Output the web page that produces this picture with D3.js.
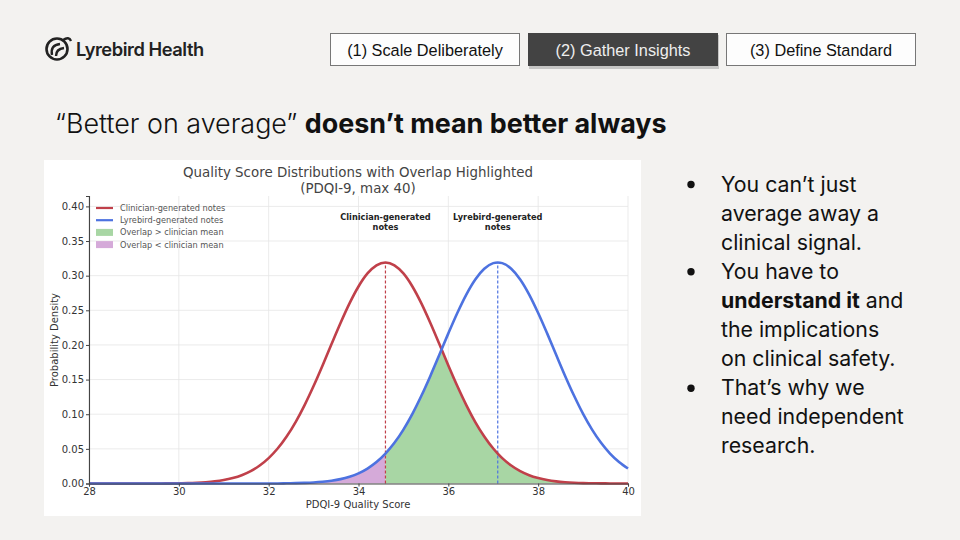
<!DOCTYPE html>
<html><head><meta charset="utf-8">
<script src="https://cdn.jsdelivr.net/npm/d3@7"></script>
<style>
html,body{margin:0;padding:0;background:#f3f2f0;}
svg{display:block;}
</style></head>
<body><svg id="c" width="960" height="540"></svg>
<script>
// ---- data ----
const scoreX = [28,28.2,28.4,28.6,28.8,29,29.2,29.4,29.6,29.8,30,30.2,30.4,30.6,30.8,31,31.2,31.4,31.6,31.8,32,32.2,32.4,32.6,32.8,33,33.2,33.4,33.6,33.8,34,34.2,34.4,34.6,34.8,35,35.2,35.4,35.6,35.8,36,36.2,36.4,36.6,36.8,37,37.1,37.2,37.4,37.6,37.8,38,38.2,38.4,38.6,38.8,39,39.2,39.4,39.6,39.8,40];
const clinicianDensity = [0,0,0,0,0,0,0,0,0.0001,0.0002,0.0004,0.0006,0.0011,0.0019,0.0031,0.0050,0.0079,0.0120,0.0179,0.0260,0.0367,0.0505,0.0678,0.0887,0.1132,0.1407,0.1704,0.2013,0.2317,0.2600,0.2844,0.3032,0.3150,0.3191,0.3150,0.3032,0.2844,0.2600,0.2317,0.2013,0.1704,0.1407,0.1132,0.0887,0.0678,0.0505,0.0432,0.0367,0.0260,0.0179,0.0120,0.0079,0.0050,0.0031,0.0019,0.0011,0.0006,0.0004,0.0002,0.0001,0,0];
const lyrebirdDensity = [0,0,0,0,0,0,0,0,0,0,0,0,0,0,0,0,0,0,0,0,0.0001,0.0001,0.0003,0.0005,0.0009,0.0015,0.0025,0.0040,0.0063,0.0098,0.0147,0.0216,0.0310,0.0432,0.0587,0.0778,0.1005,0.1266,0.1553,0.1858,0.2167,0.2462,0.2728,0.2946,0.3100,0.3181,0.3191,0.3181,0.3100,0.2946,0.2728,0.2462,0.2167,0.1858,0.1553,0.1266,0.1005,0.0778,0.0587,0.0432,0.0310,0.0216];
const clinicianMean = 34.6;
const lyrebirdMean = 37.1;
const peakDensity = 0.3191;
const xTicks = [28,30,32,34,36,38,40];
const yTicks = [0,0.05,0.10,0.15,0.20,0.25,0.30,0.35,0.40];
const legendLabels = ["Clinician-generated notes","Lyrebird-generated notes","Overlap > clinician mean","Overlap < clinician mean"];
const navLabels = ["(1) Scale Deliberately","(2) Gather Insights","(3) Define Standard"];
const bulletLines = [
  [["You can\u2019t just",false]],
  [["average away a",false]],
  [["clinical signal.",false]],
  [["You have to",false]],
  [["understand it",true],[" and",false]],
  [["the implications",false]],
  [["on clinical safety.",false]],
  [["That\u2019s why we",false]],
  [["need independent",false]],
  [["research.",false]]
];
const bulletStarts = [0,3,7];

// ---- drawing ----
const svg = d3.select("#c");
const RED = "#c0404a", BLUE = "#4d72e0", GREEN = "#a8d6a4", PURPLE = "#d5aad9";

// logo
const logo = svg.append("g").attr("transform","translate(57,49)");
logo.append("circle").attr("r",10.5).attr("fill","none").attr("stroke","#222").attr("stroke-width",2.6);
logo.append("path").attr("d","M-5,6 Q-7,-4 3,-5").attr("fill","none").attr("stroke","#222").attr("stroke-width",2.4);
logo.append("path").attr("d","M-1,7 Q-1,0 7,-1").attr("fill","none").attr("stroke","#222").attr("stroke-width",2.4);
logo.append("path").attr("d","M6,-9 Q12,-13 14,-8").attr("fill","none").attr("stroke","#222").attr("stroke-width",2.4);
svg.append("text").attr("x",76).attr("y",56).attr("font-family","Inter").attr("font-weight",600)
  .attr("font-size",18.3).attr("fill","#222").attr("letter-spacing",-0.45).text("Lyrebird Health");

// nav buttons
const navX = [330,528,726];
navLabels.forEach((t,i)=>{
  const active = i===1;
  if(active){
    svg.append("rect").attr("x",navX[i]+1).attr("y",35).attr("width",190).attr("height",34).attr("fill","#999").attr("opacity",0.5);
  }
  svg.append("rect").attr("x",navX[i]+0.5).attr("y",33.5).attr("width",189).attr("height",32)
    .attr("fill",active?"#434343":"#fdfdfd").attr("stroke",active?"#434343":"#777").attr("stroke-width",1);
  svg.append("text").attr("x",navX[i]+95).attr("y",55.5).attr("text-anchor","middle")
    .attr("font-family","Liberation Sans, Arial").attr("font-size",16.3).attr("fill",active?"#eee":"#111").text(t);
});

// headline
const h = svg.append("text").attr("x",55).attr("y",133).attr("font-family","Inter").attr("font-size",26.9).attr("fill","#111");
h.append("tspan").attr("font-weight",300).text("\u201CBetter on average\u201D ");
h.append("tspan").attr("font-weight",700).text("doesn\u2019t mean better always");

// bullets
bulletLines.forEach((line,i)=>{
  const yy = 191.5 + i*29.1;
  const t = svg.append("text").attr("x",721).attr("y",yy).attr("font-family","Inter").attr("font-size",21.3).attr("fill","#111");
  line.forEach(([s,b])=>t.append("tspan").attr("font-weight",b?700:400).text(s));
  if(bulletStarts.includes(i)) svg.append("circle").attr("cx",691).attr("cy",yy-7).attr("r",3.7).attr("fill","#111");
});

// chart panel
svg.append("rect").attr("x",44).attr("y",160).attr("width",597).attr("height",356).attr("fill","#fff");
const x = d3.scaleLinear().domain([28,40]).range([89,628]);
const y = d3.scaleLinear().domain([0,0.415]).range([483.5,196]);
const CF = "DejaVu Sans, sans-serif";

const title = svg.append("text").attr("x",358).attr("text-anchor","middle").attr("font-family",CF).attr("font-size",13.4).attr("fill","#444");
title.append("tspan").attr("x",358).attr("y",177).text("Quality Score Distributions with Overlap Highlighted");
title.append("tspan").attr("x",358).attr("y",193).text("(PDQI-9, max 40)");

// grid
const g = svg.append("g");
g.selectAll(".vg").data(xTicks).join("line").attr("x1",d=>x(d)).attr("x2",d=>x(d)).attr("y1",y(0)).attr("y2",y(0.415))
  .attr("stroke","#e6e6e6").attr("stroke-width",0.8);
g.selectAll(".hg").data(yTicks).join("line").attr("x1",x(28)).attr("x2",x(40)).attr("y1",d=>y(d)).attr("y2",d=>y(d))
  .attr("stroke","#e6e6e6").attr("stroke-width",0.8);

const pts = scoreX.map((v,i)=>({x:v,c:clinicianDensity[i],l:lyrebirdDensity[i]}));
const curve = d3.curveMonotoneX;

// clip: area under clinician curve
svg.append("defs").append("clipPath").attr("id","redArea").append("path")
  .attr("d", d3.area().curve(curve).x(d=>x(d.x)).y0(y(0)).y1(d=>y(d.c))(pts));
const ov = svg.append("g").attr("clip-path","url(#redArea)");
const blueArea = d3.area().curve(curve).x(d=>x(d.x)).y0(y(0)).y1(d=>y(d.l));
ov.append("path").attr("d",blueArea(pts.filter(d=>d.x<=clinicianMean))).attr("fill",PURPLE);
ov.append("path").attr("d",blueArea(pts.filter(d=>d.x>=clinicianMean))).attr("fill",GREEN);

// mean lines
svg.append("line").attr("x1",x(clinicianMean)).attr("x2",x(clinicianMean)).attr("y1",y(0)).attr("y2",y(peakDensity))
  .attr("stroke",RED).attr("stroke-width",1.2).attr("stroke-dasharray","3,2");
svg.append("line").attr("x1",x(lyrebirdMean)).attr("x2",x(lyrebirdMean)).attr("y1",y(0)).attr("y2",y(peakDensity))
  .attr("stroke",BLUE).attr("stroke-width",1.2).attr("stroke-dasharray","3,2");

// curves
const lineC = d3.line().curve(curve).x(d=>x(d.x)).y(d=>y(d.c));
const lineL = d3.line().curve(curve).x(d=>x(d.x)).y(d=>y(d.l));
svg.append("path").attr("d",lineC(pts)).attr("fill","none").attr("stroke",RED).attr("stroke-width",2.6);
svg.append("path").attr("d",lineL(pts)).attr("fill","none").attr("stroke",BLUE).attr("stroke-width",2.6);

// axes
const ax = svg.append("g").attr("transform",`translate(0,${y(0)})`)
  .call(d3.axisBottom(x).tickValues(xTicks).tickFormat(d3.format("d")).tickSize(3).tickPadding(1));
const ay = svg.append("g").attr("transform",`translate(${x(28)},0)`)
  .call(d3.axisLeft(y).tickValues(yTicks).tickFormat(d3.format(".2f")).tickSize(3).tickPadding(2));
[ax,ay].forEach(a=>{
  a.selectAll("text").attr("font-family",CF).attr("font-size",10).attr("fill","#333");
  a.selectAll("line").attr("stroke","#444");
  a.select(".domain").attr("stroke","#444").attr("stroke-width",1.1);
});
svg.append("text").attr("x",358).attr("y",508).attr("text-anchor","middle").attr("font-family",CF).attr("font-size",10).attr("fill","#333").text("PDQI-9 Quality Score");
svg.append("text").attr("transform","translate(58,340) rotate(-90)").attr("text-anchor","middle").attr("font-family",CF).attr("font-size",10).attr("fill","#333").text("Probability Density");

// annotations
[[clinicianMean,"Clinician-generated"],[lyrebirdMean,"Lyrebird-generated"]].forEach(([m,t])=>{
  const a = svg.append("text").attr("text-anchor","middle").attr("font-family",CF).attr("font-weight","bold").attr("font-size",8.2).attr("fill","#222");
  a.append("tspan").attr("x",x(m)).attr("y",y(0.385)+3).text(t);
  a.append("tspan").attr("x",x(m)).attr("y",y(0.385)+13).text("notes");
});

// legend
const lg = svg.append("g").attr("transform","translate(96,208)");
legendLabels.forEach((t,i)=>{
  const yy = i*12.2;
  if(i<2) lg.append("line").attr("x1",0).attr("x2",17).attr("y1",yy).attr("y2",yy).attr("stroke",i?BLUE:RED).attr("stroke-width",2.2);
  else lg.append("rect").attr("x",0).attr("y",yy-3.5).attr("width",17).attr("height",7).attr("fill",i===2?GREEN:PURPLE);
  lg.append("text").attr("x",24).attr("y",yy+3).attr("font-family",CF).attr("font-size",8.2).attr("fill","#555").text(t);
});
</script></body></html>
